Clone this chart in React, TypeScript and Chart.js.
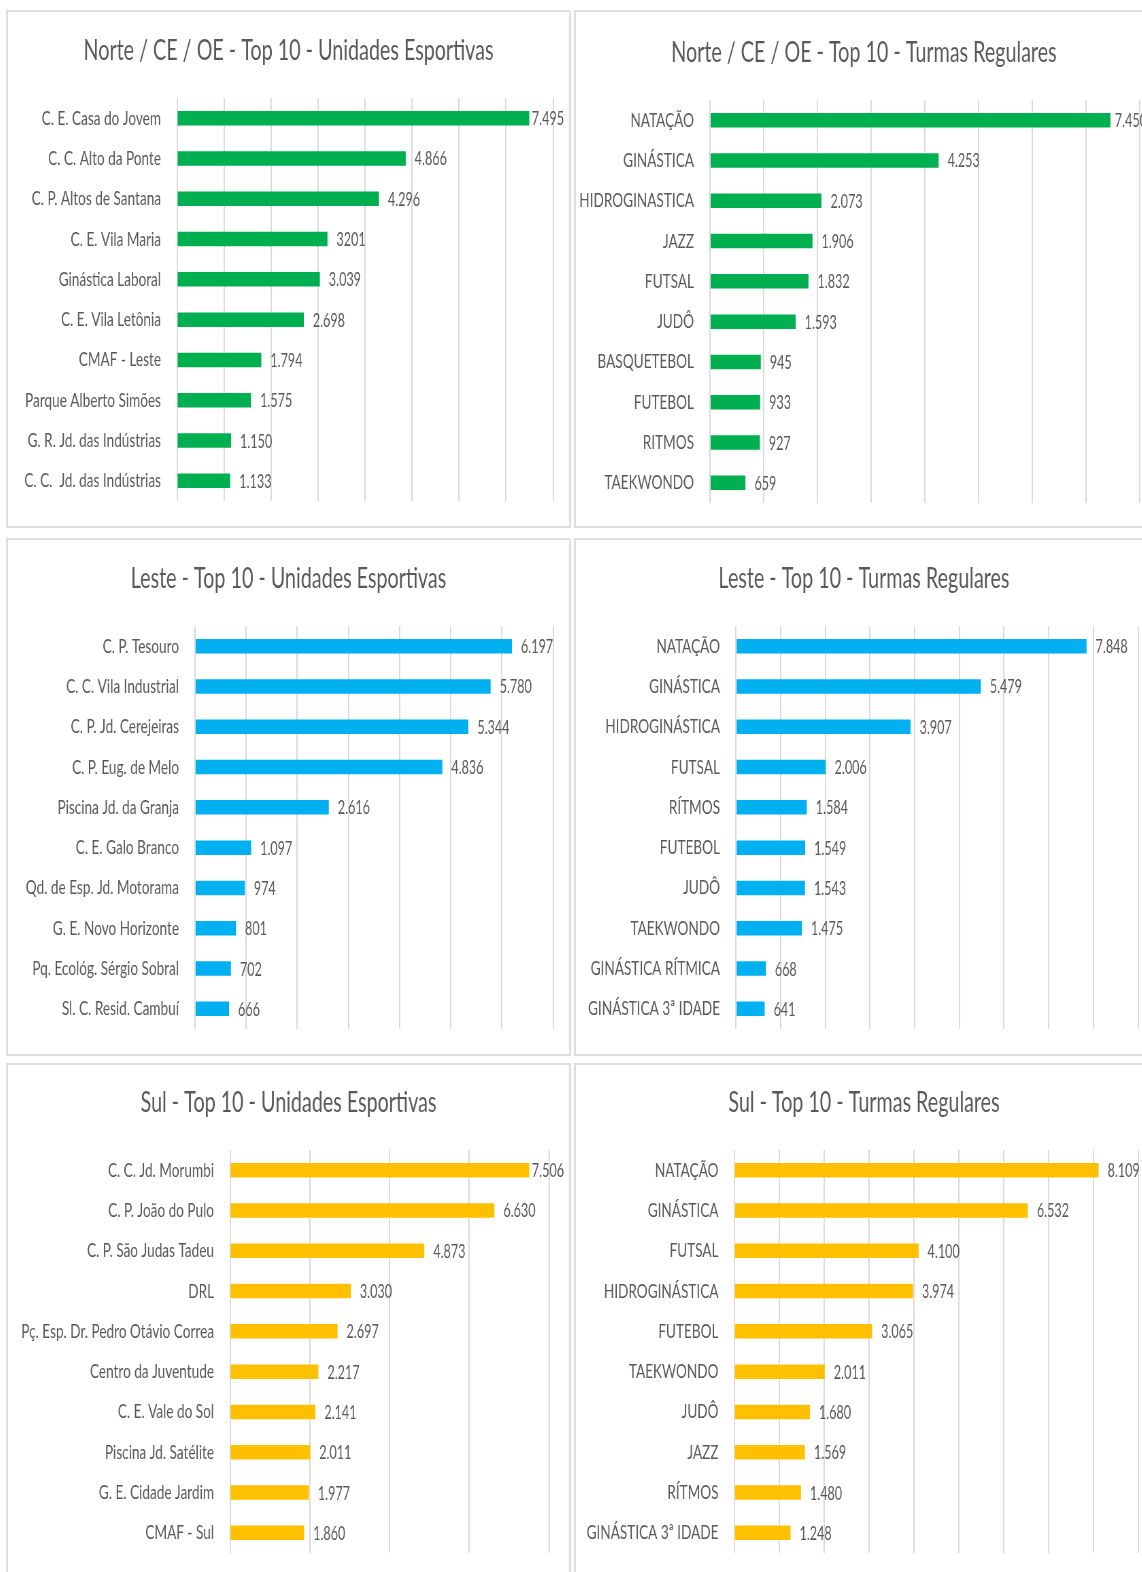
import React, { useEffect, useRef } from 'react';
import { Chart, registerables } from 'chart.js';

Chart.register(...registerables);

// ---------------- data ----------------
const norteUnidadesLabels = [
  'C. E. Casa do Jovem',
  'C. C. Alto da Ponte',
  'C. P. Altos de Santana',
  'C. E. Vila Maria',
  'Ginástica Laboral',
  'C. E. Vila Letônia',
  'CMAF - Leste',
  'Parque Alberto Simões',
  'G. R. Jd. das Indústrias',
  'C. C.  Jd. das Indústrias',
];
const norteUnidadesValues = [7495, 4866, 4296, 3201, 3039, 2698, 1794, 1575, 1150, 1133];
const norteUnidadesPlain = [3]; // shown without thousands separator ("3201")

const norteTurmasLabels = [
  'NATAÇÃO', 'GINÁSTICA', 'HIDROGINASTICA', 'JAZZ', 'FUTSAL',
  'JUDÔ', 'BASQUETEBOL', 'FUTEBOL', 'RITMOS', 'TAEKWONDO',
];
const norteTurmasValues = [7450, 4253, 2073, 1906, 1832, 1593, 945, 933, 927, 659];

const lesteUnidadesLabels = [
  'C. P. Tesouro',
  'C. C. Vila Industrial',
  'C. P. Jd. Cerejeiras',
  'C. P. Eug. de Melo',
  'Piscina Jd. da Granja',
  'C. E. Galo Branco',
  'Qd. de Esp. Jd. Motorama',
  'G. E. Novo Horizonte',
  'Pq. Ecológ. Sérgio Sobral',
  'Sl. C. Resid. Cambuí',
];
const lesteUnidadesValues = [6197, 5780, 5344, 4836, 2616, 1097, 974, 801, 702, 666];

const lesteTurmasLabels = [
  'NATAÇÃO', 'GINÁSTICA', 'HIDROGINÁSTICA', 'FUTSAL', 'RÍTMOS',
  'FUTEBOL', 'JUDÔ', 'TAEKWONDO', 'GINÁSTICA RÍTMICA', 'GINÁSTICA 3ª IDADE',
];
const lesteTurmasValues = [7848, 5479, 3907, 2006, 1584, 1549, 1543, 1475, 668, 641];

const sulUnidadesLabels = [
  'C. C. Jd. Morumbi',
  'C. P. João do Pulo',
  'C. P. São Judas Tadeu',
  'DRL',
  'Pç. Esp. Dr. Pedro Otávio Correa',
  'Centro da Juventude',
  'C. E. Vale do Sol',
  'Piscina Jd. Satélite',
  'G. E. Cidade Jardim',
  'CMAF - Sul',
];
const sulUnidadesValues = [7506, 6630, 4873, 3030, 2697, 2217, 2141, 2011, 1977, 1860];

const sulTurmasLabels = [
  'NATAÇÃO', 'GINÁSTICA', 'FUTSAL', 'HIDROGINÁSTICA', 'FUTEBOL',
  'TAEKWONDO', 'JUDÔ', 'JAZZ', 'RÍTMOS', 'GINÁSTICA 3ª IDADE',
];
const sulTurmasValues = [8109, 6532, 4100, 3974, 3065, 2011, 1680, 1569, 1480, 1248];

// ---------------- styles ----------------
const SX = 0.68; // horizontal squeeze of the whole picture
const FONT = 'Lato, "Noto Sans", sans-serif';
const TEXT = '#595959';
const GRID = '#d9d9d9';
const BORDER = '#dedede';
const GREEN = '#00b050';
const BLUE = '#00b0f0';
const GOLD = '#ffc000';
const TICK_SIZE = 20;
const VALUE_SIZE = 18.5;
const TITLE_SIZE = 29;

function fmt(v: number): string {
  return String(v).replace(/\B(?=(\d{3})+(?!\d))/g, '.');
}

type PanelDef = {
  title: string;
  labels: string[];
  values: number[];
  plain?: number[];
  color: string;
  xMax: number;
  step: number;
  // geometry (page px)
  left: number; top: number; w: number; h: number;
  axisX: number; maxX: number; plotTop: number; plotBottom: number; titleY: number;
};

const panels: PanelDef[] = [
  {
    title: 'Norte / CE / OE - Top 10 - Unidades Esportivas',
    labels: norteUnidadesLabels, values: norteUnidadesValues, plain: norteUnidadesPlain,
    color: GREEN, xMax: 8000, step: 1000,
    left: 6, top: 10, w: 565, h: 518, axisX: 177, maxX: 553, plotTop: 98, plotBottom: 501, titleY: 51,
  },
  {
    title: 'Norte / CE / OE - Top 10 - Turmas Regulares',
    labels: norteTurmasLabels, values: norteTurmasValues,
    color: GREEN, xMax: 8000, step: 1000,
    left: 574, top: 10, w: 580, h: 518, axisX: 710, maxX: 1140, plotTop: 100, plotBottom: 503, titleY: 53,
  },
  {
    title: 'Leste - Top 10 - Unidades Esportivas',
    labels: lesteUnidadesLabels, values: lesteUnidadesValues,
    color: BLUE, xMax: 7000, step: 1000,
    left: 6, top: 538, w: 565, h: 518, axisX: 195, maxX: 553, plotTop: 626, plotBottom: 1029, titleY: 579,
  },
  {
    title: 'Leste - Top 10 - Turmas Regulares',
    labels: lesteTurmasLabels, values: lesteTurmasValues,
    color: BLUE, xMax: 9000, step: 1000,
    left: 574, top: 538, w: 580, h: 518, axisX: 736, maxX: 1138, plotTop: 626, plotBottom: 1029, titleY: 579,
  },
  {
    title: 'Sul - Top 10 - Unidades Esportivas',
    labels: sulUnidadesLabels, values: sulUnidadesValues,
    color: GOLD, xMax: 8000, step: 2000,
    left: 6, top: 1063, w: 565, h: 520, axisX: 230, maxX: 549, plotTop: 1150, plotBottom: 1553, titleY: 1103,
  },
  {
    title: 'Sul - Top 10 - Turmas Regulares',
    labels: sulTurmasLabels, values: sulTurmasValues,
    color: GOLD, xMax: 9000, step: 1000,
    left: 574, top: 1063, w: 580, h: 520, axisX: 734.5, maxX: 1138.6, plotTop: 1150, plotBottom: 1553, titleY: 1103,
  },
];

// data labels at the end of each bar, kept inside the chart
const valueLabels = {
  id: 'valueLabels',
  afterDatasetsDraw(chart: any, _args: any, opts: any) {
    const { ctx } = chart;
    const meta = chart.getDatasetMeta(0);
    ctx.save();
    ctx.font = `${VALUE_SIZE}px ${FONT}`;
    ctx.fillStyle = TEXT;
    ctx.textAlign = 'left';
    ctx.textBaseline = 'middle';
    const limit = chart.width - 5 / SX;
    meta.data.forEach((bar: any, i: number) => {
      const t = opts.texts[i];
      const w = ctx.measureText(t).width;
      const x = Math.min(bar.x + 9 / SX, limit - w);
      ctx.fillText(t, x, bar.y + 1);
    });
    ctx.restore();
  },
};

// chart title centred on the whole panel
const panelTitle = {
  id: 'panelTitle',
  afterDraw(chart: any, _args: any, opts: any) {
    const { ctx } = chart;
    ctx.save();
    ctx.font = `${TITLE_SIZE}px ${FONT}`;
    ctx.fillStyle = TEXT;
    ctx.textAlign = 'center';
    ctx.textBaseline = 'middle';
    ctx.fillText(opts.text, chart.width / 2, opts.y);
    ctx.restore();
  },
};

function Panel({ p }: { p: PanelDef }) {
  const ref = useRef<HTMLCanvasElement | null>(null);
  const innerL = p.left + 2;
  const innerT = p.top + 2;
  const innerW = p.w - 4;
  const innerH = p.h - 4;
  const canvasW = Math.round(innerW / SX);

  useEffect(() => {
    if (!ref.current) return;
    const rightPad = canvasW - (p.maxX - innerL) / SX;
    const yWidth = (p.axisX - innerL) / SX;
    const topPad = p.plotTop - innerT;
    const bottomPad = innerT + innerH - p.plotBottom;
    const texts = p.values.map((v, i) => (p.plain && p.plain.includes(i) ? String(v) : fmt(v)));

    const chart = new Chart(ref.current, {
      type: 'bar',
      data: {
        labels: p.labels,
        datasets: [
          {
            data: p.values,
            backgroundColor: p.color,
            borderWidth: 0,
            barPercentage: 0.36,
            categoryPercentage: 1,
          },
        ],
      },
      options: {
        indexAxis: 'y',
        responsive: false,
        animation: false,
        layout: { padding: { left: 0, right: rightPad, top: topPad, bottom: bottomPad } },
        plugins: {
          legend: { display: false },
          tooltip: { enabled: false },
          title: { display: false },
          valueLabels: { texts },
          panelTitle: { text: p.title, y: p.titleY - innerT },
        } as any,
        scales: {
          x: {
            min: 0,
            max: p.xMax,
            ticks: { display: false, stepSize: p.step },
            grid: { color: GRID, lineWidth: 1.3 / SX, drawTicks: false },
            border: { display: false },
          },
          y: {
            ticks: {
              color: TEXT,
              font: { family: FONT, size: TICK_SIZE },
              padding: 16 / SX,
              autoSkip: false,
            },
            grid: { display: false, drawTicks: false },
            border: { display: false },
            afterFit: (sc: any) => {
              sc.width = yWidth;
              sc.paddingTop = 0;
              sc.paddingBottom = 0;
            },
          },
        },
      } as any,
      plugins: [valueLabels, panelTitle],
    });
    return () => chart.destroy();
  }, []);

  return (
    <div
      style={{
        position: 'absolute',
        left: p.left,
        top: p.top,
        width: p.w,
        height: p.h,
        border: `2px solid ${BORDER}`,
        boxSizing: 'border-box',
        overflow: 'hidden',
        background: '#fff',
      }}
    >
      <div style={{ transform: `scaleX(${SX})`, transformOrigin: '0 0', width: canvasW, height: innerH }}>
        <canvas ref={ref} width={canvasW} height={innerH} />
      </div>
    </div>
  );
}

export default function App() {
  return (
    <div
      style={{
        position: 'absolute',
        left: 0,
        top: 0,
        width: 1142,
        height: 1572,
        overflow: 'hidden',
        background: '#fff',
      }}
    >
      {panels.map((p, i) => (
        <Panel key={i} p={p} />
      ))}
    </div>
  );
}
